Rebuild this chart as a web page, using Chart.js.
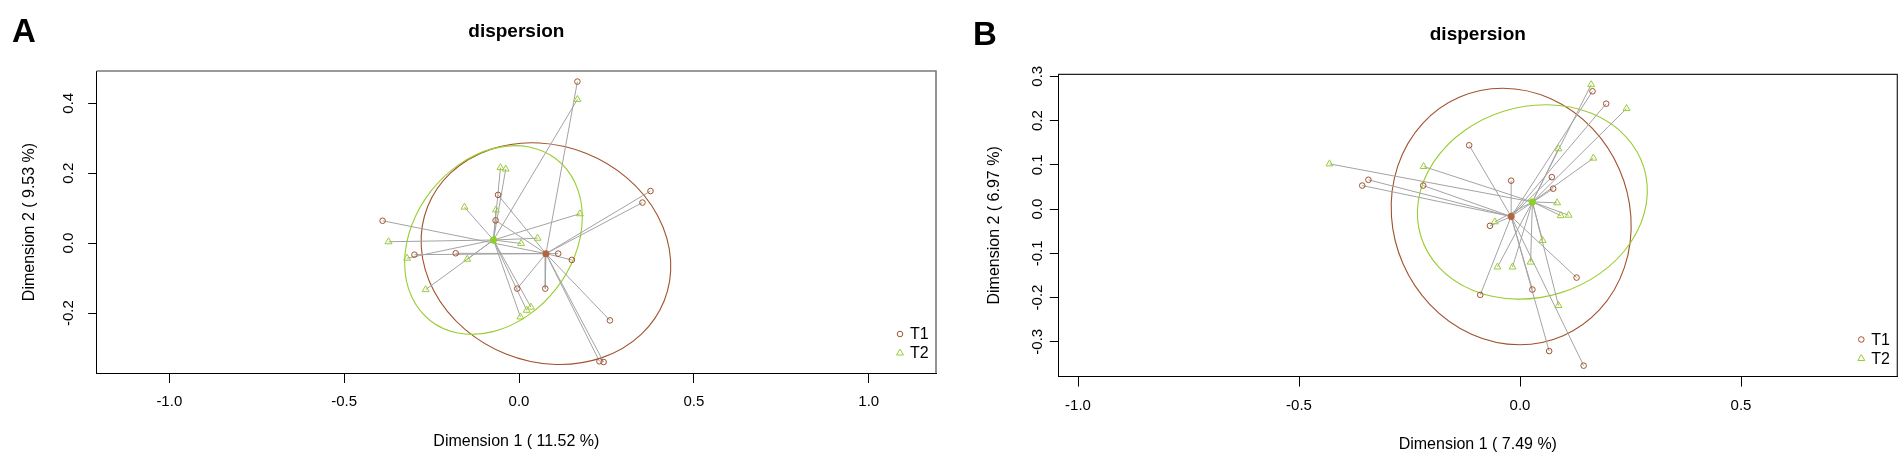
<!DOCTYPE html>
<html>
<head>
<meta charset="utf-8">
<script src="https://cdn.jsdelivr.net/npm/chart.js@4.4.1/dist/chart.umd.min.js"></script>
<style>
  html, body { margin: 0; padding: 0; background: #fff; }
  body { width: 1904px; height: 458px; position: relative; overflow: hidden; font-family: "Liberation Sans", Arial, sans-serif; }
  .panel { position: absolute; top: 0; width: 952px; height: 458px; }
  .tag { position: absolute; font-weight: bold; font-size: 33px; line-height: 33px; color: #000; }
</style>
</head>
<body>
<div class="panel" style="left:0"><canvas id="chartA" width="952" height="458"></canvas></div>
<div class="panel" style="left:952px"><canvas id="chartB" width="952" height="458"></canvas></div>
<div class="tag" style="left:12px;top:14px">A</div>
<div class="tag" style="left:973px;top:17px">B</div>
<script>
// ---- panel A data (Dimension 1 / Dimension 2 scores) ----
const t1A = [[0.167, 0.462], [0.376, 0.149], [0.353, 0.116], [-0.390, 0.064], [-0.060, 0.138],
  [-0.067, 0.065], [-0.299, -0.033], [-0.181, -0.029], [0.112, -0.030], [0.151, -0.048],
  [-0.005, -0.130], [0.075, -0.130], [0.260, -0.221], [0.230, -0.338], [0.242, -0.340]];
const t2A = [[0.167, 0.411], [-0.053, 0.216], [-0.038, 0.212], [-0.156, 0.103], [-0.066, 0.095],
  [0.174, 0.084], [-0.373, 0.004], [0.006, -0.001], [0.053, 0.014], [-0.320, -0.043],
  [-0.148, -0.046], [-0.267, -0.133], [0.034, -0.183], [0.022, -0.192], [0.004, -0.211]];
const centroidT1A = [0.077, -0.030];
const centroidT2A = [-0.073, 0.009];
// ellipse: centre x, centre y, semi-axis a, semi-axis b, angle (deg)
const ellipseT1A = [0.077, -0.030, 0.364, 0.309, -21.7];
const ellipseT2A = [-0.073, 0.009, 0.293, 0.227, 52];
const xRangeA = [-1.2076, 1.1924];
const yRangeA = [-0.3714, 0.4923];
const xTicksA = [-1.0, -0.5, 0.0, 0.5, 1.0];
const yTicksA = [-0.2, 0.0, 0.2, 0.4];

// ---- panel B data ----
const t1B = [[0.164, 0.266], [0.195, 0.238], [-0.115, 0.144], [-0.020, 0.064], [0.072, 0.072],
  [0.075, 0.046], [-0.343, 0.066], [-0.357, 0.053], [-0.219, 0.053], [-0.068, -0.038],
  [0.128, -0.155], [0.028, -0.182], [-0.090, -0.194], [0.066, -0.321], [0.144, -0.354]];
const t2B = [[0.161, 0.281], [0.241, 0.227], [0.087, 0.136], [0.166, 0.115], [-0.431, 0.102],
  [-0.218, 0.096], [0.084, 0.014], [0.092, -0.015], [0.110, -0.014], [-0.057, -0.029],
  [0.051, -0.071], [-0.051, -0.131], [-0.017, -0.131], [0.024, -0.120], [0.087, -0.218]];
const centroidT1B = [-0.020, -0.017];
const centroidT2B = [0.028, 0.016];
const ellipseT1B = [-0.020, -0.017, 0.294, 0.267, -66.4];
const ellipseT2B = [0.028, 0.016, 0.264, 0.215, 17.1];
const xRangeB = [-1.0446, 0.8536];
const yRangeB = [-0.3785, 0.3044];
const xTicksB = [-1.0, -0.5, 0.0, 0.5];
const yTicksB = [-0.3, -0.2, -0.1, 0.0, 0.1, 0.2, 0.3];

const groupLabels = ['T1', 'T2'];

const FONT = '"Liberation Sans", Arial, Helvetica, sans-serif';
const T1_COLOR = '#A0522D';
const T1_FILL = '#B5653D';
const T2_COLOR = '#9ACD32';
const T2_FILL = '#8CD21E';
const SPIDER = '#a3a3a3';

Chart.defaults.font.family = FONT;
Chart.defaults.color = '#000';

const toXY = pts => pts.map(p => ({ x: p[0], y: p[1] }));

// centroid -> point segments, broken by gaps
function spokes(points, c) {
    const out = [];
    points.forEach(p => {
        out.push({ x: c[0], y: c[1] }, { x: p[0], y: p[1] }, { x: null, y: null });
    });
    return out;
}

const ellipsePlugin = {
    id: 'ellipses',
    beforeDatasetsDraw(chart, args, opts) {
        const { ctx, scales: { x, y } } = chart;
        opts.items.forEach(item => {
            const [cx, cy, a, b, deg] = item.shape;
            const kx = x.getPixelForValue(1) - x.getPixelForValue(0);
            const ky = y.getPixelForValue(0) - y.getPixelForValue(1);
            ctx.save();
            ctx.beginPath();
            ctx.translate(x.getPixelForValue(cx), y.getPixelForValue(cy));
            ctx.scale(kx, -ky);
            ctx.rotate(deg * Math.PI / 180);
            ctx.ellipse(0, 0, a, b, 0, 0, Math.PI * 2);
            ctx.restore();
            ctx.save();
            ctx.strokeStyle = item.color;
            ctx.lineWidth = 1.1;
            ctx.stroke();
            ctx.restore();
        });
    }
};

const framePlugin = {
    id: 'frame',
    afterDraw(chart, args, opts) {
        const { ctx, chartArea: a } = chart;
        ctx.save();
        ctx.strokeStyle = opts.color;
        ctx.lineWidth = opts.width;
        ctx.beginPath();
        ctx.moveTo(a.left, a.top);
        ctx.lineTo(a.right, a.top);
        ctx.lineTo(a.right, a.bottom);
        ctx.stroke();
        ctx.restore();
    }
};

const keyPlugin = {
    id: 'key',
    afterDraw(chart, args, opts) {
        const { ctx, chartArea: a } = chart;
        ctx.save();
        ctx.font = '16px ' + FONT;
        ctx.textBaseline = 'middle';
        ctx.fillStyle = '#000';
        opts.items.forEach((it, i) => {
            const yy = a.bottom - opts.top + i * 19;
            ctx.save();
            ctx.strokeStyle = it.color;
            ctx.fillStyle = 'rgba(0,0,0,0)';
            Chart.helpers.drawPoint(ctx, { pointStyle: it.style, radius: it.radius, borderWidth: 1, rotation: 0 }, a.right - 36, yy);
            ctx.restore();
            ctx.fillText(it.label, a.right - 26, yy + 1);
        });
        ctx.restore();
    }
};

function makeChart(id, p) {
    return new Chart(document.getElementById(id), {
        type: 'scatter',
        data: {
            datasets: [
                { data: [{ x: p.c1[0], y: p.c1[1] }], pointRadius: 3.5, pointBackgroundColor: T1_FILL, pointBorderColor: T1_FILL, pointBorderWidth: 0, order: 1 },
                { data: [{ x: p.c2[0], y: p.c2[1] }], pointRadius: 3.5, pointBackgroundColor: T2_FILL, pointBorderColor: T2_FILL, pointBorderWidth: 0, order: 1 },
                { label: groupLabels[0], data: toXY(p.t1), pointStyle: 'circle', pointRadius: 2.8, pointBorderWidth: 1, pointBorderColor: T1_COLOR, pointBackgroundColor: 'rgba(0,0,0,0)', order: 2 },
                { label: groupLabels[1], data: toXY(p.t2), pointStyle: 'triangle', pointRadius: 4, pointBorderWidth: 1, pointBorderColor: T2_COLOR, pointBackgroundColor: 'rgba(0,0,0,0)', order: 2 },
                { data: spokes(p.t1, p.c1), showLine: true, spanGaps: false, pointRadius: 0, borderColor: SPIDER, borderWidth: 1, order: 3 },
                { data: spokes(p.t2, p.c2), showLine: true, spanGaps: false, pointRadius: 0, borderColor: SPIDER, borderWidth: 1, order: 3 }
            ]
        },
        options: {
            responsive: false,
            animation: false,
            events: [],
            layout: { padding: { left: 0, right: p.padRight, top: 0, bottom: 0 } },
            plugins: {
                legend: { display: false },
                tooltip: { enabled: false },
                title: {
                    display: true, text: 'dispersion', fullSize: false, color: '#000',
                    font: { size: 19, weight: 'bold' },
                    padding: { top: p.titleTop, bottom: p.titleBottom }
                },
                ellipses: { items: [{ shape: p.e1, color: T1_COLOR }, { shape: p.e2, color: T2_COLOR }] },
                frame: { color: p.frameColor, width: p.frameWidth },
                key: {
                    top: p.keyTop,
                    items: [
                        { label: groupLabels[0], style: 'circle', radius: 2.8, color: T1_COLOR },
                        { label: groupLabels[1], style: 'triangle', radius: 4, color: T2_COLOR }
                    ]
                }
            },
            scales: {
                x: {
                    type: 'linear', position: 'bottom', bounds: 'data',
                    min: p.xr[0], max: p.xr[1],
                    afterBuildTicks: s => { s.ticks = p.xt.map(v => ({ value: v })); },
                    afterFit: s => { s.height = p.xh; },
                    grid: { display: true, drawOnChartArea: false, drawTicks: true, tickLength: 10, color: '#000', tickColor: '#000', lineWidth: 1 },
                    border: { display: true, color: '#000', width: 1 },
                    ticks: { padding: p.xPad, color: '#000', font: { size: 15 }, callback: v => v.toFixed(1) },
                    title: { display: true, text: p.xTitle, color: '#000', font: { size: 16 }, padding: { top: 0, bottom: p.xTitleBottom } }
                },
                y: {
                    type: 'linear', position: 'left', bounds: 'data',
                    min: p.yr[0], max: p.yr[1],
                    afterBuildTicks: s => { s.ticks = p.yt.map(v => ({ value: v })); },
                    afterFit: s => { s.width = p.yw; },
                    grid: { display: true, drawOnChartArea: false, drawTicks: true, tickLength: 8.5, color: '#000', tickColor: '#000', lineWidth: 1 },
                    border: { display: true, color: '#000', width: 1 },
                    ticks: { minRotation: 90, maxRotation: 90, crossAlign: 'center', padding: p.yPad, color: '#000', font: { size: 15 }, callback: v => v.toFixed(1) },
                    title: { display: true, text: p.yTitle, color: '#000', font: { size: 16 }, padding: { top: p.yTitleTop, bottom: 0 } }
                }
            }
        },
        plugins: [ellipsePlugin, framePlugin, keyPlugin]
    });
}

makeChart('chartA', {
    t1: t1A, t2: t2A, c1: centroidT1A, c2: centroidT2A, e1: ellipseT1A, e2: ellipseT2A,
    xr: xRangeA, yr: yRangeA, xt: xTicksA, yt: yTicksA,
    xTitle: 'Dimension 1 ( 11.52 %)', yTitle: 'Dimension 2 ( 9.53 %)',
    padRight: 16, titleTop: 20.3, titleBottom: 27.9, xh: 85, yw: 96.7,
    xPad: 10, yPad: 6.8, xTitleBottom: 6.7, yTitleTop: 20,
    frameColor: '#7a7a7a', frameWidth: 1.6, keyTop: 39
});

makeChart('chartB', {
    t1: t1B, t2: t2B, c1: centroidT1B, c2: centroidT2B, e1: ellipseT1B, e2: ellipseT2B,
    xr: xRangeB, yr: yRangeB, xt: xTicksB, yt: yTicksB,
    xTitle: 'Dimension 1 ( 7.49 %)', yTitle: 'Dimension 2 ( 6.97 %)',
    padRight: 6.7, titleTop: 23.6, titleBottom: 27.9, xh: 81.5, yw: 106.3,
    xPad: 10.5, yPad: -0.5, xTitleBottom: 3.4, yTitleTop: 32.9,
    frameColor: '#222', frameWidth: 1.2, keyTop: 37
});
</script>
</body>
</html>
